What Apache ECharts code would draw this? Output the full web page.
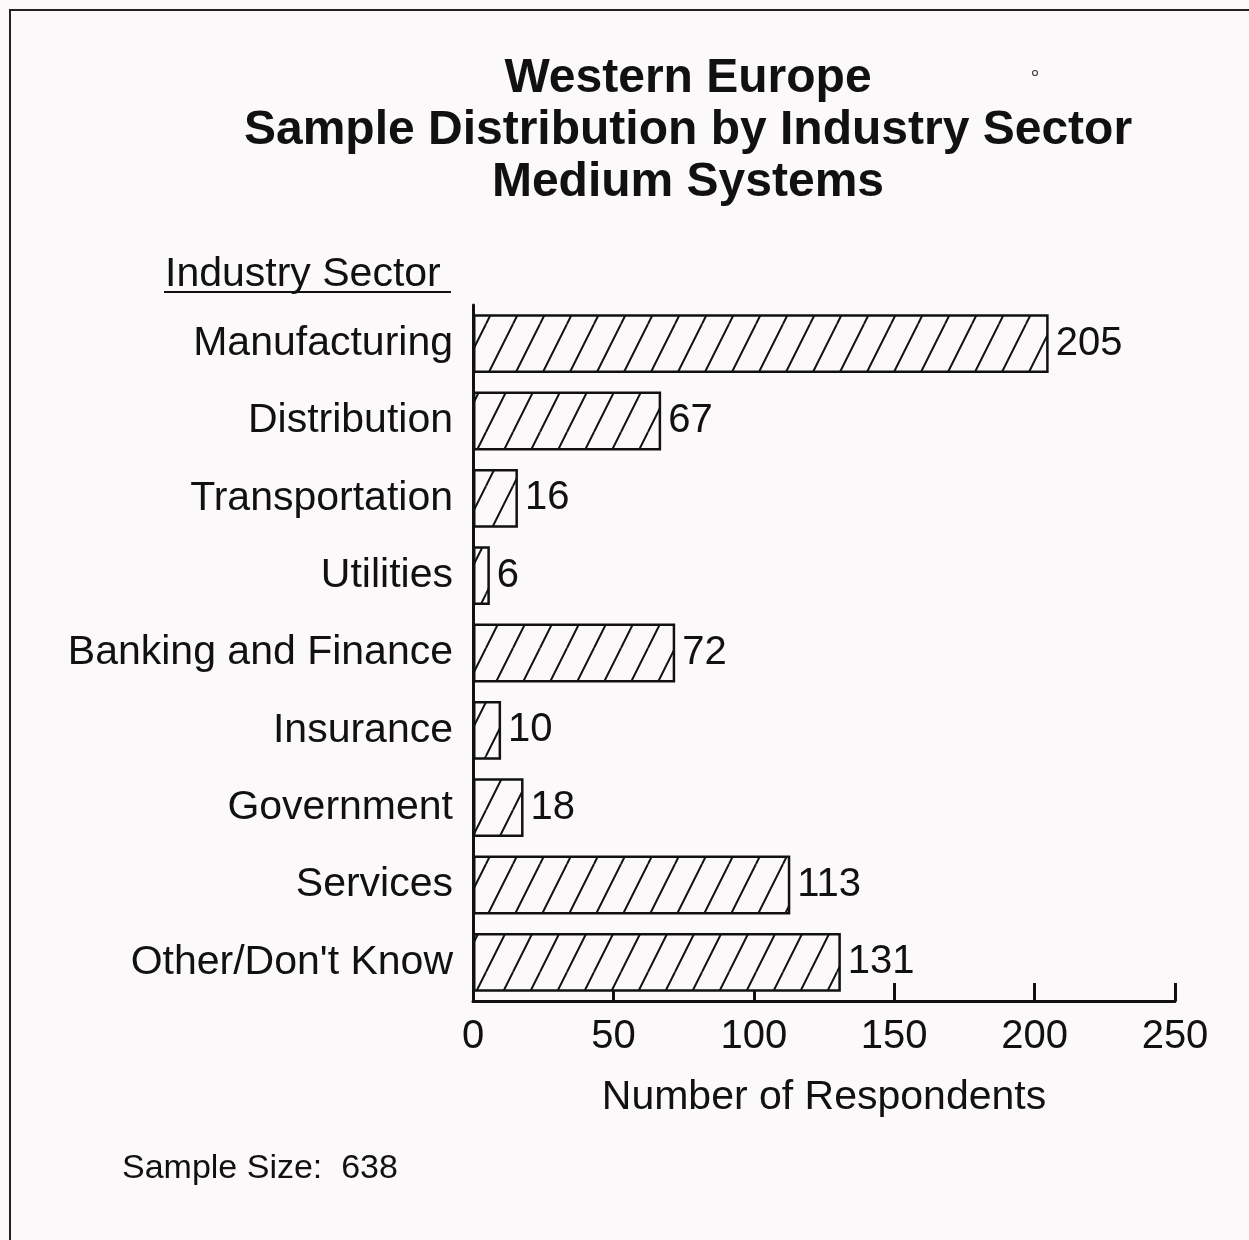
<!DOCTYPE html>
<html>
<head>
<meta charset="utf-8">
<script src="https://cdn.jsdelivr.net/npm/echarts@6/dist/echarts.min.js"></script>
<style>
  html, body { margin: 0; padding: 0; background: #fcf9fa; }
  #chart { width: 1249px; height: 1240px; }
</style>
</head>
<body>
<div id="chart"></div>
<script>
// Industry sectors and number of respondents per sector
const sectors = ['Manufacturing', 'Distribution', 'Transportation', 'Utilities',
  'Banking and Finance', 'Insurance', 'Government', 'Services', "Other/Don't Know"];
const respondents = [205, 67, 16, 6, 72, 10, 18, 113, 131];
const xTicks = [0, 50, 100, 150, 200, 250];
const titleLines = ['Western Europe', 'Sample Distribution by Industry Sector', 'Medium Systems'];
const sampleSize = 638;

const FONT = '"Liberation Sans", Arial, Helvetica, sans-serif';

// Diagonal hatch tile used to fill the bars
function hatchPattern() {
  const w = 27, h = 54;
  const c = document.createElement('canvas');
  c.width = w; c.height = h;
  const ctx = c.getContext('2d');
  ctx.fillStyle = '#fcf9fa';
  ctx.fillRect(0, 0, w, h);
  ctx.strokeStyle = '#111';
  ctx.lineWidth = 2;
  ctx.beginPath();
  for (const dx of [-w, 0, w]) {
    ctx.moveTo(dx, h);
    ctx.lineTo(dx + w, 0);
  }
  ctx.stroke();
  return c;
}

const chart = echarts.init(document.getElementById('chart'), null, { renderer: 'canvas' });

chart.setOption({
  backgroundColor: '#fcf9fa',
  animation: false,
  grid: { left: 473, right: 74, top: 305, bottom: 239, containLabel: false },
  xAxis: {
    type: 'value',
    min: xTicks[0],
    max: xTicks[xTicks.length - 1],
    interval: 50,
    name: 'Number of Respondents',
    nameLocation: 'middle',
    nameGap: 76,
    nameTextStyle: { fontFamily: FONT, fontSize: 41, color: '#111' },
    axisLine: { show: true, lineStyle: { color: '#111', width: 3 } },
    axisTick: { show: true, inside: true, length: 18, lineStyle: { color: '#111', width: 3 } },
    axisLabel: { margin: 16, fontFamily: FONT, fontSize: 40, color: '#111' },
    splitLine: { show: false }
  },
  yAxis: {
    type: 'category',
    data: sectors,
    inverse: true,
    axisLine: { show: true, onZero: false, lineStyle: { color: '#111', width: 3 } },
    axisTick: { show: false },
    axisLabel: { margin: 20, fontFamily: FONT, fontSize: 41, color: '#111' }
  },
  series: [{
    type: 'bar',
    data: respondents,
    barCategoryGap: '24%',
    itemStyle: {
      color: { image: hatchPattern(), repeat: 'repeat' },
      borderColor: '#111',
      borderWidth: 2.5
    },
    label: {
      show: true,
      position: 'right',
      distance: 7,
      fontFamily: FONT,
      fontSize: 40,
      color: '#111'
    }
  }],
  graphic: [
    // page frame (left and top edges)
    { type: 'polyline', shape: { points: [[10, 1240], [10, 10], [1249, 10]] },
      style: { stroke: '#222', lineWidth: 2, fill: null } },
    // three-line title, centred over the plot
    { type: 'text', x: 688, y: 53,
      style: { text: titleLines.join('\n'), font: 'bold 48px ' + FONT, fill: '#111',
               align: 'center', verticalAlign: 'top', lineHeight: 52 } },
    // axis heading
    { type: 'text', x: 165, y: 254,
      style: { text: 'Industry Sector', font: '41px ' + FONT, fill: '#111',
               verticalAlign: 'top' } },
    { type: 'line', shape: { x1: 164, y1: 292, x2: 451, y2: 292 },
      style: { stroke: '#111', lineWidth: 2 } },
    // footnote
    { type: 'text', x: 122, y: 1152,
      style: { text: 'Sample Size:  ' + sampleSize, font: '34px ' + FONT, fill: '#111',
               verticalAlign: 'top' } },
    { type: 'circle', shape: { cx: 1035, cy: 73, r: 2.5 },
      style: { stroke: '#444', lineWidth: 1.2, fill: null } }
  ]
});
</script>
</body>
</html>
